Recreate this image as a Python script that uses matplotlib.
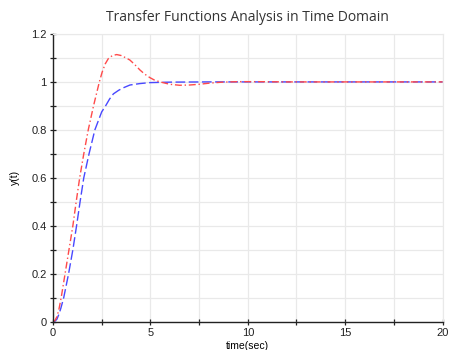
import numpy as np
import matplotlib
matplotlib.use('Agg')
import matplotlib.pyplot as plt
from matplotlib.ticker import MultipleLocator

# Step responses
t_red = [0, 0.1, 0.2, 0.3, 0.42, 0.62, 0.82, 1.02, 1.19, 1.37, 1.58, 1.81, 2.08,
         2.38, 2.52, 2.68, 2.84, 3.05, 3.27, 3.5, 3.75, 3.95, 4.2, 4.46, 4.7, 4.97,
         5.2, 5.49, 6.0, 6.5, 7.0, 7.5, 8.05, 8.7, 9.5, 10.5, 12, 15, 20]
y_red = [0, 0.005, 0.02, 0.05, 0.1, 0.2, 0.3, 0.4, 0.5, 0.6, 0.7, 0.8, 0.9,
         1.0, 1.04, 1.075, 1.097, 1.11, 1.114, 1.11, 1.1, 1.091, 1.072, 1.05, 1.033, 1.018,
         1.008, 1.0, 0.99, 0.986, 0.987, 0.99, 0.995, 0.999, 1.001, 1.001, 1.0, 1.0, 1.0]

t_blue = [0, 0.1, 0.2, 0.3, 0.4, 0.55, 0.8, 1.02, 1.21, 1.39, 1.58, 1.85, 2.15,
          2.5, 2.7, 2.9, 3.1, 3.37, 3.6, 3.95, 4.46, 4.97, 6.0, 8.0, 10, 15, 20]
y_blue = [0, 0.002, 0.01, 0.03, 0.055, 0.1, 0.2, 0.3, 0.4, 0.5, 0.6, 0.7, 0.8,
          0.875, 0.9, 0.928, 0.95, 0.965, 0.975, 0.987, 0.993, 0.997, 0.999, 1.0, 1.0, 1.0, 1.0]

fig = plt.figure(figsize=(4.53, 3.5), dpi=100)
ax = fig.add_axes([0.117, 0.081, 0.86, 0.822])

ax.plot(t_blue, y_blue, color='#4848ff', linewidth=1.0, dashes=(7, 2.5))
ax.plot(t_red, y_red, color='#ff4a4a', linewidth=1.0, dashes=(5, 2, 1, 2))

ax.set_xlim(0, 20)
ax.set_ylim(0, 1.2)
ax.xaxis.set_major_locator(MultipleLocator(5))
ax.xaxis.set_minor_locator(MultipleLocator(2.5))
ax.yaxis.set_major_locator(MultipleLocator(0.2))
ax.yaxis.set_minor_locator(MultipleLocator(0.1))
ax.yaxis.set_major_formatter(plt.FuncFormatter(lambda v, p: f'{v:g}'))

ax.grid(True, which='both', color='#e9e9e9', linewidth=0.9)
ax.set_axisbelow(True)
for s in ['top', 'right']:
    ax.spines[s].set_color('#e9e9e9')
for s in ['left', 'bottom']:
    ax.spines[s].set_color('#222222')
    ax.spines[s].set_linewidth(1.0)

ax.tick_params(which='both', direction='inout', length=5, width=0.9,
               color='#222222', labelsize=8, labelcolor='#222222', pad=2)
ax.tick_params(which='minor', length=4)
for lab in ax.get_xticklabels() + ax.get_yticklabels():
    lab.set_family('Liberation Sans')

ax.set_title('Transfer Functions Analysis in Time Domain', fontsize=10,
             family='Open Sans', color='#333333', pad=9)
ax.set_xlabel('time(sec)', fontsize=7.5, family='Liberation Sans', labelpad=2)
ax.set_ylabel('y(t)', fontsize=7.5, family='Liberation Sans', labelpad=8)

fig.savefig('out.png', dpi=100)
